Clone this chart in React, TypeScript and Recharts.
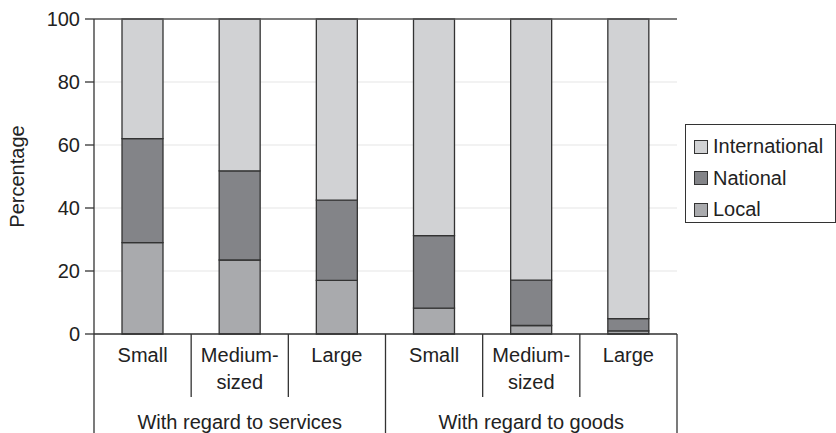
import React from 'react';
import { BarChart, Bar, XAxis, YAxis, CartesianGrid, ReferenceLine, Legend } from 'recharts';

// chart values (percent)
const categories = ['Small', 'Medium-sized', 'Large', 'Small', 'Medium-sized', 'Large'];
const groups = ['With regard to services', 'With regard to goods'];
const localShare = [29, 23.5, 17, 8.2, 2.7, 1];
const nationalShare = [33, 28.3, 25.5, 23, 14.4, 3.9];
const internationalShare = [38, 48.2, 57.5, 68.8, 82.9, 95.1];
const yTicks = [0, 20, 40, 60, 80, 100];
const legendOrder = ['International', 'National', 'Local'];

const data = categories.map((c, i) => ({
    key: c,
    Local: localShare[i],
    National: nationalShare[i],
    International: internationalShare[i],
}));

// layout
const W = 836;
const H = 433;
const M_TOP = 19;
const M_RIGHT = 159;
const Y_W = 94;
const X_H = 99;
const PLOT_W = W - M_RIGHT - Y_W;
const PLOT_BOTTOM = H - X_H;
const BAND = PLOT_W / categories.length;

const FONT = '"Liberation Sans", Arial, sans-serif';
const FS = 20;
const INK = '#222';
const LINE = '#333';

const colors: Record<string, string> = {
    International: '#d1d2d4',
    National: '#838488',
    Local: '#a9aaad',
};

const CategoryTick = (props: any) => {
    const { payload, index } = props;
    const cx = payload.coordinate;
    const label: string = payload.value ?? categories[index];
    const lines = label.includes('-') ? [label.slice(0, label.indexOf('-') + 1), label.slice(label.indexOf('-') + 1)] : [label];
    const left = cx - BAND / 2;
    const groupEdge = index % 3 === 0;
    return (
        <g>
            <line x1={left} x2={left} y1={PLOT_BOTTOM} y2={groupEdge ? H : 397} stroke={LINE} strokeWidth={1.3} />
            {index === categories.length - 1 && (
                <line x1={cx + BAND / 2} x2={cx + BAND / 2} y1={PLOT_BOTTOM} y2={H} stroke={LINE} strokeWidth={1.3} />
            )}
            {lines.map((l, k) => (
                <text key={k} x={cx} y={PLOT_BOTTOM + 28 + k * 27} textAnchor="middle" fontFamily={FONT} fontSize={FS} fill={INK}>
                    {l}
                </text>
            ))}
            {index % 3 === 1 && (
                <text x={cx} y={PLOT_BOTTOM + 95} textAnchor="middle" fontFamily={FONT} fontSize={FS} fill={INK}>
                    {groups[Math.floor(index / 3)]}
                </text>
            )}
        </g>
    );
};

const LegendBox = (props: any) => {
    const items = legendOrder
        .map((name) => (props.payload || []).find((p: any) => p.value === name))
        .filter(Boolean);
    return (
        <div style={{ border: `1.5px solid ${LINE}`, padding: '6px 0 4px 8px', fontFamily: FONT, fontSize: FS, color: INK, boxSizing: 'border-box', height: 99, width: 151 }}>
            {items.map((it: any) => (
                <div key={it.value} style={{ display: 'flex', alignItems: 'center', height: 31.5, lineHeight: '31.5px', whiteSpace: 'nowrap' }}>
                    <span style={{ display: 'inline-block', width: 12, height: 12, background: colors[it.value], border: `1.3px solid ${LINE}`, marginRight: 5 }} />
                    {it.value}
                </div>
            ))}
        </div>
    );
};

const App: React.FC = () => {
    return (
        <div style={{ position: 'absolute', left: 0, top: 0, width: W, height: H, overflow: 'hidden', background: '#fff' }}>
            <BarChart width={W} height={H} data={data} margin={{ top: M_TOP, right: M_RIGHT, left: 0, bottom: 0 }} barSize={41}>
                <CartesianGrid vertical={false} stroke="#e6e6e6" strokeWidth={1.2} />
                <XAxis
                    dataKey="key"
                    height={X_H}
                    tickLine={false}
                    axisLine={{ stroke: LINE, strokeWidth: 1.3 }}
                    tick={<CategoryTick />}
                    interval={0}
                />
                <YAxis
                    width={Y_W}
                    domain={[0, 100]}
                    ticks={yTicks}
                    tickSize={9}
                    tickMargin={5}
                    axisLine={{ stroke: LINE, strokeWidth: 1.3 }}
                    tickLine={{ stroke: LINE, strokeWidth: 1.3 }}
                    tick={{ fontFamily: FONT, fontSize: FS, fill: INK }}
                    label={{
                        content: (p: any) => {
                            const vb = p.viewBox || { y: M_TOP, height: PLOT_BOTTOM - M_TOP };
                            const cy = vb.y + vb.height / 2;
                            return (
                                <text x={17} y={cy} transform={`rotate(-90 17 ${cy})`} textAnchor="middle" dominantBaseline="central" fontFamily={FONT} fontSize={FS} fill={INK}>
                                    Percentage
                                </text>
                            );
                        },
                    }}
                />
                <YAxis yAxisId="frame" orientation="right" width={0} domain={[0, 100]} tick={false} tickLine={false} axisLine={{ stroke: '#555', strokeWidth: 1.3 }} />
                <ReferenceLine y={100} stroke="#555" strokeWidth={1.3} />
                <Legend
                    layout="horizontal"
                    align="center"
                    verticalAlign="middle"
                    wrapperStyle={{ left: 685, top: 124, width: 151 }}
                    content={<LegendBox />}
                />
                <Bar dataKey="Local" stackId="a" fill={colors.Local} stroke={LINE} strokeWidth={1.3} isAnimationActive={false} />
                <Bar dataKey="National" stackId="a" fill={colors.National} stroke={LINE} strokeWidth={1.3} isAnimationActive={false} />
                <Bar dataKey="International" stackId="a" fill={colors.International} stroke={LINE} strokeWidth={1.3} isAnimationActive={false} />
            </BarChart>
        </div>
    );
};

export default App;
